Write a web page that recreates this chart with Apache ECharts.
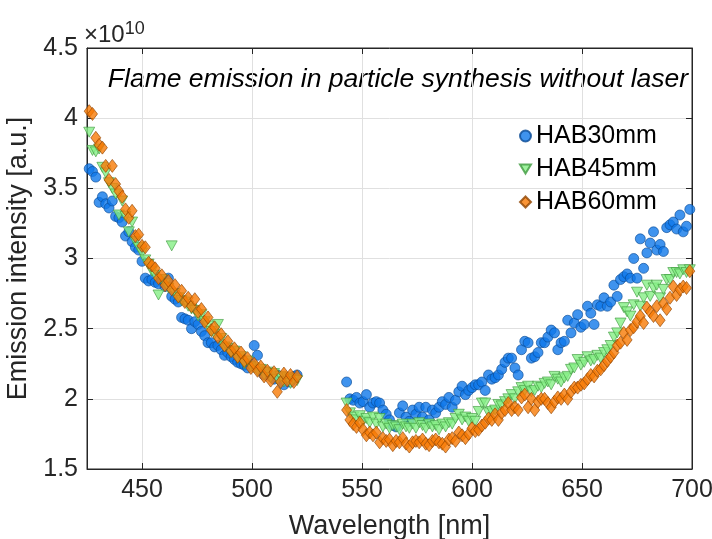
<!DOCTYPE html>
<html>
<head>
<meta charset="utf-8">
<script src="https://cdn.jsdelivr.net/npm/echarts@6/dist/echarts.min.js"></script>
<style>
  html, body { margin: 0; padding: 0; background: #fff; }
  #chart { width: 712px; height: 539px; }
</style>
</head>
<body>
<div id="chart"></div>
<script>
// wavelength grid [nm], two measured windows
const wlLeft = [426, 427.5, 429, 430.5, 432, 433.5, 435, 436.5, 438, 439.5,
  441, 442.5, 444, 445.5, 447, 448.5, 450, 451.5, 453, 454.5,
  456, 457.5, 459, 460.5, 462, 463.5, 465, 466.5, 468, 469.5,
  471, 472.5, 474, 475.5, 477, 478.5, 480, 481.5, 483, 484.5,
  486, 487.5, 489, 490.5, 492, 493.5, 495, 496.5, 498, 499.5,
  501, 502.5, 504, 505.5, 507, 508.5, 510, 511.5, 513, 514.5,
  516, 517.5, 519, 520.5]
const wlRight = [543, 544.5, 546, 547.5, 549, 550.5, 552, 553.5, 555, 556.5,
  558, 559.5, 561, 562.5, 564, 565.5, 567, 568.5, 570, 571.5,
  573, 574.5, 576, 577.5, 579, 580.5, 582, 583.5, 585, 586.5,
  588, 589.5, 591, 592.5, 594, 595.5, 597, 598.5, 600, 601.5,
  603, 604.5, 606, 607.5, 609, 610.5, 612, 613.5, 615, 616.5,
  618, 619.5, 621, 622.5, 624, 625.5, 627, 628.5, 630, 631.5,
  633, 634.5, 636, 637.5, 639, 640.5, 642, 643.5, 645, 646.5,
  648, 649.5, 651, 652.5, 654, 655.5, 657, 658.5, 660, 661.5,
  663, 664.5, 666, 667.5, 669, 670.5, 672, 673.5, 675, 676.5,
  678, 679.5, 681, 682.5, 684, 685.5, 687, 688.5, 690, 691.5,
  693, 694.5, 696, 697.5, 699]

// emission intensity, in units of 1e10
const hab30Left = [3.64, 3.62, 3.58, 3.40, 3.44, 3.39, 3.36, 3.41, 3.30, 3.29,
  3.26, 3.16, 3.19, 3.12, 3.08, 3.06, 2.98, 2.86, 2.84, 2.85,
  2.83, 2.82, 2.85, 2.80, 2.86, 2.73, 2.71, 2.69, 2.58, 2.57,
  2.56, 2.50, 2.55, 2.53, 2.48, 2.45, 2.40, 2.40, 2.37, 2.38,
  2.35, 2.31, 2.33, 2.30, 2.28, 2.26, 2.25, 2.24, 2.22, 2.25,
  2.38, 2.31, 2.20, 2.17, 2.19, 2.16, 2.14, 2.17, 2.13, 2.10,
  2.15, 2.12, 2.16, 2.17]
const hab45Left = [3.90, 3.77, 3.76, 3.78, 3.65, 3.61, 3.54, 3.50, 3.46, 3.31,
  3.41, 3.30, 3.19, 3.26, 3.12, 3.08, 3.04, 2.99, 2.96, 2.91,
  2.88, 2.74, 2.85, 2.82, 2.79, 3.09, 2.75, 2.72, 2.70, 2.69,
  2.66, 2.64, 2.63, 2.59, 2.60, 2.55, 2.52, 2.48, 2.46, 2.53,
  2.43, 2.37, 2.36, 2.33, 2.34, 2.29, 2.30, 2.25, 2.27, 2.23,
  2.22, 2.20, 2.21, 2.17, 2.19, 2.15, 2.18, 2.14, 2.16, 2.12,
  2.15, 2.11, 2.14, 2.13]
const hab60Left = [4.05, 4.03, 3.86, 3.81, 3.79, 3.66, 3.56, 3.66, 3.53, 3.48,
  3.44, 3.35, 3.29, 3.34, 3.16, 3.17, 3.09, 3.08, 2.97, 2.95,
  2.93, 2.86, 2.88, 2.81, 2.84, 2.78, 2.81, 2.73, 2.77, 2.69,
  2.72, 2.66, 2.71, 2.62, 2.64, 2.55, 2.58, 2.49, 2.51, 2.44,
  2.46, 2.38, 2.41, 2.34, 2.36, 2.30, 2.33, 2.27, 2.29, 2.22,
  2.25, 2.20, 2.23, 2.16, 2.20, 2.13, 2.19, 2.05, 2.12, 2.18,
  2.13, 2.17, 2.12, 2.16]

const hab30Right = [2.12, 2.00, 1.99, 2.01, 1.97, 1.98, 2.03, 1.94, 1.97, 1.98,
  1.97, 1.92, 1.89, 1.85, 1.81, 1.80, 1.90, 1.95, 1.87, 1.84,
  1.92, 1.89, 1.94, 1.87, 1.94, 1.85, 1.92, 1.90, 1.94, 1.98,
  1.96, 2.01, 1.94, 1.99, 2.05, 2.09, 2.03, 2.06, 2.08, 2.10,
  2.10, 2.12, 2.06, 2.17, 2.14, 2.15, 2.17, 2.21, 2.26, 2.29,
  2.29, 2.22, 2.17, 2.35, 2.41, 2.40, 2.29, 2.30, 2.33, 2.40,
  2.40, 2.44, 2.49, 2.47, 2.35, 2.40, 2.41, 2.56, 2.47, 2.54,
  2.60, 2.51, 2.53, 2.66, 2.61, 2.53, 2.67, 2.66, 2.72, 2.66,
  2.69, 2.81, 2.73, 2.85, 2.87, 2.89, 2.86, 3.00, 2.86, 3.14,
  2.93, 3.04, 3.11, 3.19, 3.06, 3.10, 3.05, 3.22, 3.24, 3.26,
  3.21, 3.31, 3.19, 3.23, 3.35]
const hab45Right = [1.97, 1.90, 1.87, 1.85, 1.88, 1.84, 1.86, 1.83, 1.87, 1.82,
  1.86, 1.80, 1.82, 1.79, 1.81, 1.80, 1.78, 1.82, 1.80, 1.79,
  1.82, 1.79, 1.83, 1.81, 1.79, 1.82, 1.80, 1.81, 1.78, 1.82,
  1.80, 1.83, 1.82, 1.86, 1.89, 1.85, 1.87, 1.84, 1.86, 1.84,
  1.91, 1.97, 1.97, 1.90, 1.91, 1.92, 1.96, 1.95, 1.98, 2.00,
  2.03, 2.00, 2.05, 2.08, 2.06, 2.09, 2.05, 2.06, 2.09, 2.08,
  2.11, 2.12, 2.10, 2.16, 2.14, 2.12, 2.15, 2.16, 2.21, 2.22,
  2.28, 2.24, 2.26, 2.30, 2.27, 2.28, 2.31, 2.29, 2.33, 2.35,
  2.38, 2.44, 2.47, 2.54, 2.65, 2.62, 2.59, 2.67, 2.76, 2.66,
  2.72, 2.81, 2.73, 2.79, 2.81, 2.72, 2.78, 2.85, 2.85, 2.90,
  2.90, 2.89, 2.92, 2.90, 2.92]
const hab60Right = [1.92, 1.85, 1.82, 1.80, 1.83, 1.78, 1.74, 1.76, 1.74, 1.76,
  1.69, 1.72, 1.70, 1.71, 1.67, 1.70, 1.69, 1.72, 1.68, 1.66,
  1.69, 1.70, 1.69, 1.71, 1.68, 1.67, 1.70, 1.71, 1.69, 1.68,
  1.66, 1.71, 1.72, 1.70, 1.76, 1.74, 1.72, 1.75, 1.79, 1.77,
  1.78, 1.81, 1.83, 1.86, 1.85, 1.89, 1.85, 1.90, 1.92, 1.97,
  1.92, 1.94, 1.92, 2.01, 2.03, 1.94, 2.00, 1.92, 1.98, 2.00,
  2.00, 1.97, 1.94, 1.98, 2.01, 2.00, 2.03, 2.00, 2.05, 2.08,
  2.08, 2.10, 2.11, 2.14, 2.17, 2.16, 2.20, 2.21, 2.24, 2.27,
  2.30, 2.33, 2.38, 2.40, 2.47, 2.42, 2.49, 2.51, 2.55, 2.59,
  2.54, 2.65, 2.62, 2.59, 2.66, 2.56, 2.68, 2.64, 2.72, 2.80,
  2.74, 2.78, 2.80, 2.79, 2.91]

const xTicks = [450, 500, 550, 600, 650, 700]

const wavelength = wlLeft.concat(wlRight)
function pairs(left, right) {
  const ys = left.concat(right)
  return wavelength.map((x, i) => [x, ys[i]])
}

const FONT = 'Liberation Sans, Arial, Helvetica, sans-serif'
const INK = '#262626'
// downward triangle, same shape as the HAB45 markers
const TRI_DOWN = 'path://M0,0L12,0L6,10Z'

const chart = echarts.init(document.getElementById('chart'))
chart.setOption({
  animation: false,
  backgroundColor: '#fff',
  grid: {
    left: 87, right: 20, top: 48, bottom: 70,
    outerBoundsMode: 'none',
    show: true, borderColor: INK, borderWidth: 1,
  },
  graphic: [
    {
      type: 'text', x: 84, y: 20,
      style: {
        text: '×10{sup|10}', fill: INK, font: '24px ' + FONT,
        rich: { sup: { fontSize: 18, fontFamily: FONT, fill: INK, verticalAlign: 'top', padding: [0, 0, 12, 0] } },
      },
    },
    {
      type: 'text', x: 398, y: 80,
      style: {
        text: 'Flame emission in particle synthesis without laser',
        fill: '#000', font: 'italic 26.5px ' + FONT, textAlign: 'center', textVerticalAlign: 'middle',
      },
    },
  ],
  legend: {
    orient: 'vertical', left: 514, top: 118, itemGap: 7, itemWidth: 11, itemHeight: 11,
    textStyle: { fontSize: 25, fontFamily: FONT, color: '#000', lineHeight: 26 },
    data: [
      { name: 'HAB30mm', icon: 'circle' },
      { name: 'HAB45mm', icon: TRI_DOWN },
      { name: 'HAB60mm', icon: 'diamond' },
    ],
  },
  xAxis: [
    {
      type: 'value', min: 425, max: 700,
      name: 'Wavelength [nm]', nameLocation: 'middle', nameGap: 44,
      nameTextStyle: { fontSize: 27, fontFamily: FONT, color: INK },
      axisLine: { lineStyle: { color: INK, width: 1 } },
      axisTick: { inside: true, length: 6, customValues: xTicks, lineStyle: { color: INK } },
      axisLabel: { customValues: xTicks, fontSize: 25, fontFamily: FONT, color: INK, margin: 9 },
      splitLine: { show: true, lineStyle: { color: '#e0e0e0', width: 1 } },
    },
    {
      type: 'value', position: 'top', min: 425, max: 700,
      axisLine: { lineStyle: { color: INK } },
      axisTick: { inside: true, length: 6, customValues: xTicks, lineStyle: { color: INK } },
      axisLabel: { show: false },
      splitLine: { show: false },
    },
  ],
  yAxis: [
    {
      type: 'value', min: 1.5, max: 4.5, interval: 0.5,
      name: 'Emission intensity [a.u.]', nameLocation: 'middle', nameGap: 52,
      nameTextStyle: { fontSize: 27, fontFamily: FONT, color: INK },
      axisLine: { show: true, lineStyle: { color: INK, width: 1 } },
      axisTick: { show: true, inside: true, length: 6, lineStyle: { color: INK } },
      axisLabel: { fontSize: 25, fontFamily: FONT, color: INK, margin: 9 },
      splitLine: { show: true, lineStyle: { color: '#e0e0e0', width: 1 } },
    },
    {
      type: 'value', position: 'right', min: 1.5, max: 4.5, interval: 0.5,
      axisLine: { show: true, lineStyle: { color: INK } },
      axisTick: { show: true, inside: true, length: 6, lineStyle: { color: INK } },
      axisLabel: { show: false },
      splitLine: { show: false },
    },
  ],
  series: [
    {
      name: 'HAB30mm', type: 'scatter', symbol: 'circle', symbolSize: 10,
      itemStyle: { color: '#0f78ea', borderColor: '#0a4a94', borderWidth: 0.8 },
      data: pairs(hab30Left, hab30Right),
    },
    {
      name: 'HAB45mm', type: 'scatter', symbol: 'triangle', symbolSize: [11, 10], symbolRotate: 180,
      itemStyle: { color: '#86ef86', borderColor: '#3f9a3f', borderWidth: 0.8 },
      data: pairs(hab45Left, hab45Right),
    },
    {
      name: 'HAB60mm', type: 'scatter', symbol: 'diamond', symbolSize: [10, 13],
      itemStyle: { color: '#f77a05', borderColor: '#8f4300', borderWidth: 0.8 },
      data: pairs(hab60Left, hab60Right),
    },
  ],
})
</script>
</body>
</html>
